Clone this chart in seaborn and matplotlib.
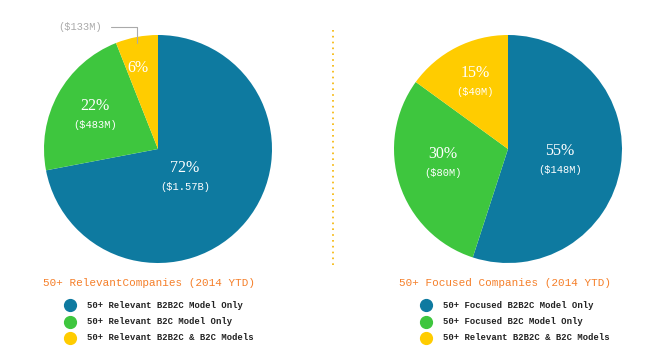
import matplotlib
matplotlib.use("Agg")
import matplotlib.pyplot as plt
from matplotlib.lines import Line2D
import seaborn as sns

# data
left_pct = [72, 22, 6]
left_money = ["($1.57B)", "($483M)", "($133M)"]
left_legend = ["50+ Relevant B2B2C Model Only",
               "50+ Relevant B2C Model Only",
               "50+ Relevant B2B2C & B2C Models"]
left_title = "50+ RelevantCompanies (2014 YTD)"

right_pct = [55, 30, 15]
right_money = ["($148M)", "($80M)", "($40M)"]
right_legend = ["50+ Focused B2B2C Model Only",
                "50+ Focused B2C Model Only",
                "50+ Relevant B2B2C & B2C Models"]
right_title = "50+ Focused Companies (2014 YTD)"

sns.set_theme(style="white")
plt.rcParams['font.family'] = ['Liberation Mono', 'DejaVu Sans']
colors = sns.color_palette(["#0E7AA0", "#3EC63E", "#FFCC00"])
orange = "#F57F29"
serif = ['Liberation Serif', 'DejaVu Serif']

W, H = 664, 358
fig = plt.figure(figsize=(W / 100, H / 100), dpi=100)


def px_axes(cx, cy, r):
    return fig.add_axes([(cx - r) / W, (H - cy - r) / H, 2 * r / W, 2 * r / H])


def draw_pie(ax, pct, money, label_pos, inside_money):
    ax.pie(pct, colors=colors, startangle=90, counterclock=False,
           wedgeprops=dict(linewidth=0))
    ax.set_xlim(-1, 1)
    ax.set_ylim(-1, 1)
    ax.set_aspect("equal")
    ax.axis("off")
    for i, (p, m) in enumerate(zip(pct, money)):
        x, y = label_pos[i]
        if inside_money[i]:
            ax.text(x, y + 0.08, f"{p}%", color="white", fontsize=11.5,
                    ha="center", va="center", family=serif)
            ax.text(x, y - 0.09, m, color="white", fontsize=7.5,
                    ha="center", va="center")
        else:
            ax.text(x, y, f"{p}%", color="white", fontsize=11.5,
                    ha="center", va="center", family=serif)


def draw_legend(x0, title, labels):
    fig.text(x0 / W, 1 - 283 / H, title, color=orange, fontsize=7.9,
             ha="left", va="center")
    for j, lab in enumerate(labels):
        y = 1 - (305 + j * 16.5) / H
        fig.add_artist(Line2D([(x0 + 27) / W], [y], marker="o", markersize=8.5,
                              color=colors[j], linestyle="none"))
        fig.text((x0 + 44) / W, y, lab, color="#222222", fontsize=6.4,
                 ha="left", va="center", fontweight="bold")


ax1 = px_axes(158, 149, 114)
draw_pie(ax1, left_pct, left_money,
         [(0.237, -0.246), (-0.553, 0.30), (-0.175, 0.71)],
         [True, True, False])
ax1.annotate(left_money[2], xy=(-0.184, 0.93), xytext=(-0.684, 1.07),
             color="#AAAAAA", fontsize=7.5, ha="center", va="center",
             annotation_clip=False,
             arrowprops=dict(arrowstyle="-", color="#AAAAAA", lw=0.8,
                             shrinkA=4, shrinkB=0,
                             connectionstyle="angle,angleA=0,angleB=90,rad=0"))

ax2 = px_axes(508, 149, 114)
draw_pie(ax2, right_pct, right_money,
         [(0.456, -0.096), (-0.57, -0.123), (-0.29, 0.59)],
         [True, True, True])

draw_legend(43, left_title, left_legend)
draw_legend(399, right_title, right_legend)

# dotted divider
fig.add_artist(Line2D([333 / W, 333 / W], [1 - 30 / H, 1 - 265 / H],
                      color="#F5B400", linestyle=(0, (1, 2.5)), lw=1.2))

fig.savefig("out.png", dpi=100)
